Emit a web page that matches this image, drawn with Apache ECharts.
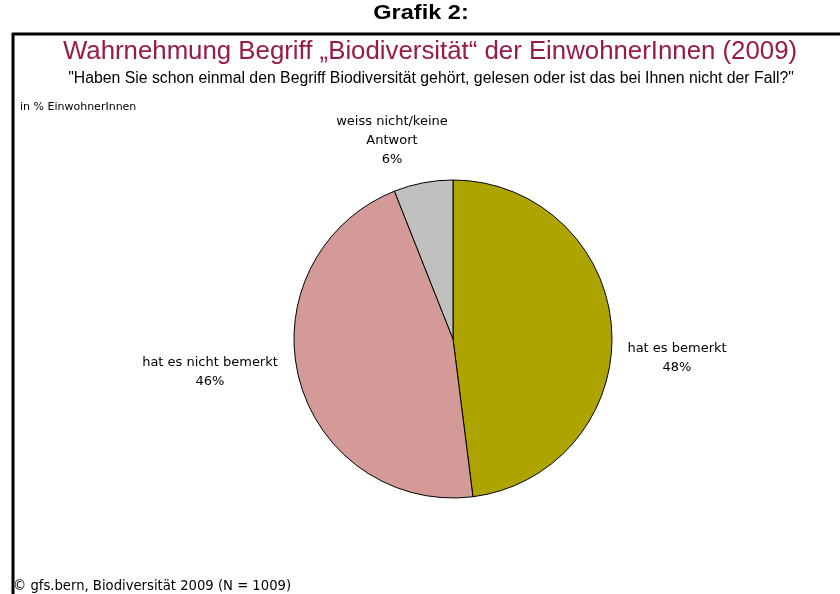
<!DOCTYPE html>
<html>
<head>
    <meta charset="utf-8">
    <title>Grafik 2</title>
    <script type="text/javascript" src="https://cdn.jsdelivr.net/npm/echarts@6/dist/echarts.min.js"></script>
    <style type="text/css">
        html, body { margin: 0; padding: 0; background: #fff; }
        #main { width: 840px; height: 594px; }
    </style>
</head>
<body>
<div id="main"></div>
<script type="text/javascript">
    // Daten
    let categories = ['hat es bemerkt', 'hat es nicht bemerkt', 'weiss nicht/keine\nAntwort'];
    let values = [48, 46, 6];
    let colors = ['#ada400', '#d49a98', '#c0c0c0'];
    // Label-Positionen (Mitte der Textblöcke)
    let labelPos = [[677, 358], [210, 372], [392, 141]];

    let chart = echarts.init(document.getElementById('main'), null, {renderer: 'canvas'});

    let pieData = categories.map(function (c, i) {
        return {name: c, value: values[i], itemStyle: {color: colors[i]}};
    });

    let option = {
        backgroundColor: '#fff',
        animation: false,
        graphic: [
            // Rahmen
            {type: 'line', shape: {x1: 12, y1: 34, x2: 840, y2: 34}, style: {stroke: '#000', lineWidth: 3}},
            {type: 'line', shape: {x1: 13, y1: 33, x2: 13, y2: 594}, style: {stroke: '#000', lineWidth: 3}},
            {type: 'text', x: 421, y: 13, scaleX: 1.12, style: {text: 'Grafik 2:', font: 'bold 21px "Liberation Sans", sans-serif', fill: '#000', align: 'center', verticalAlign: 'middle'}},
            {type: 'text', x: 430, y: 52, style: {text: 'Wahrnehmung Begriff \u201eBiodiversität\u201c der EinwohnerInnen (2009)', font: '25.8px "Liberation Sans", sans-serif', fill: '#9b1a45', align: 'center', verticalAlign: 'middle'}},
            {type: 'text', x: 431, y: 79, style: {text: '"Haben Sie schon einmal den Begriff Biodiversität gehört, gelesen oder ist das bei Ihnen nicht der Fall?"', font: '15.8px "Liberation Sans", sans-serif', fill: '#000', align: 'center', verticalAlign: 'middle'}},
            {type: 'text', x: 20, y: 107, style: {text: 'in % EinwohnerInnen', font: '11px "DejaVu Sans", sans-serif', fill: '#000', verticalAlign: 'middle'}},
            {type: 'text', x: 13, y: 587, style: {text: '© gfs.bern, Biodiversität 2009 (N = 1009)', font: '13.2px "DejaVu Sans", sans-serif', fill: '#000', verticalAlign: 'middle'}}
        ],
        series: [{
            type: 'pie',
            center: [453, 339],
            radius: 159,
            startAngle: 90,
            clockwise: true,
            data: pieData,
            itemStyle: {borderColor: '#000', borderWidth: 1},
            label: {
                show: true,
                position: 'outside',
                formatter: '{b}\n{c}%',
                fontFamily: 'DejaVu Sans',
                fontSize: 13,
                lineHeight: 19,
                color: '#000',
                align: 'center'
            },
            labelLine: {show: false},
            labelLayout: function (params) {
                let p = labelPos[params.dataIndex];
                return {x: p[0], y: p[1], align: 'center', verticalAlign: 'middle'};
            },
            emphasis: {disabled: true}
        }]
    };

    chart.setOption(option);
</script>
</body>
</html>
